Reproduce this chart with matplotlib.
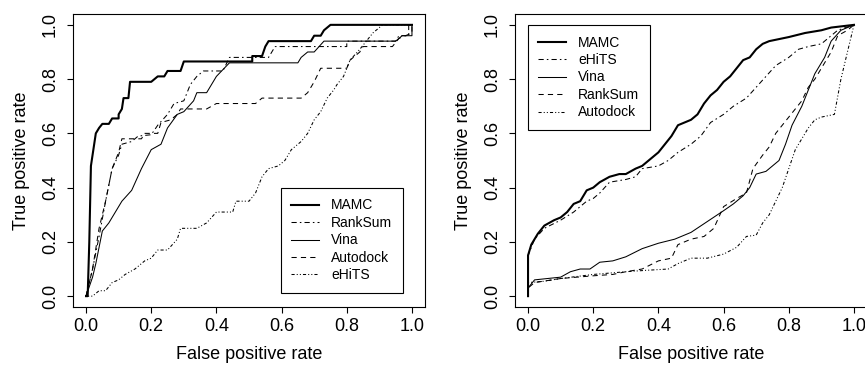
import matplotlib
matplotlib.use("Agg")
import matplotlib.pyplot as plt

plt.rcParams['font.family'] = ['Liberation Sans', 'DejaVu Sans']

# ---------------- Left panel data ----------------
l_mamc_x = [0, 0.005, 0.01, 0.015, 0.025, 0.03, 0.04, 0.05, 0.07, 0.08, 0.10, 0.10, 0.11, 0.115, 0.13, 0.135,
            0.20, 0.22, 0.24, 0.25, 0.29, 0.30, 0.51, 0.51, 0.54, 0.55, 0.56, 0.69, 0.70, 0.72, 0.73, 0.75, 1.0]
l_mamc_y = [0, 0.0, 0.2, 0.48, 0.56, 0.60, 0.62, 0.635, 0.635, 0.655, 0.655, 0.67, 0.69, 0.73, 0.73, 0.79,
            0.79, 0.81, 0.81, 0.83, 0.83, 0.865, 0.865, 0.885, 0.885, 0.92, 0.94, 0.94, 0.96, 0.96, 0.98, 1.0, 1.0]

l_rank_x = [0, 0.02, 0.04, 0.06, 0.08, 0.10, 0.11, 0.14, 0.16, 0.20, 0.22, 0.25, 0.27, 0.30, 0.32, 0.34, 0.36,
            0.42, 0.44, 0.56, 0.58, 0.80, 0.80, 0.95, 0.96, 0.99, 0.99, 1.0]
l_rank_y = [0, 0.10, 0.22, 0.35, 0.47, 0.52, 0.56, 0.57, 0.59, 0.595, 0.63, 0.67, 0.71, 0.72, 0.78, 0.81, 0.83,
            0.83, 0.88, 0.88, 0.92, 0.92, 0.94, 0.94, 0.96, 0.96, 1.0, 1.0]

l_vina_x = [0, 0.02, 0.03, 0.05, 0.07, 0.09, 0.11, 0.14, 0.17, 0.20, 0.23, 0.25, 0.28, 0.30, 0.33, 0.34, 0.37,
            0.40, 0.44, 0.65, 0.66, 0.68, 0.70, 0.73, 0.95, 0.97, 1.0, 1.0]
l_vina_y = [0, 0.07, 0.12, 0.24, 0.27, 0.31, 0.35, 0.39, 0.47, 0.54, 0.56, 0.62, 0.67, 0.68, 0.72, 0.75, 0.75,
            0.81, 0.86, 0.86, 0.88, 0.90, 0.90, 0.94, 0.94, 0.96, 0.96, 1.0]

l_auto_x = [0, 0.02, 0.04, 0.06, 0.08, 0.10, 0.11, 0.17, 0.18, 0.22, 0.23, 0.26, 0.28, 0.29, 0.37, 0.40, 0.52,
            0.54, 0.66, 0.68, 0.70, 0.72, 0.80, 0.81, 0.84, 0.85, 0.94, 0.96, 0.98, 1.0, 1.0]
l_auto_y = [0, 0.10, 0.25, 0.35, 0.47, 0.53, 0.58, 0.58, 0.60, 0.60, 0.64, 0.65, 0.67, 0.69, 0.69, 0.71, 0.71,
            0.73, 0.73, 0.75, 0.79, 0.84, 0.84, 0.87, 0.90, 0.92, 0.92, 0.95, 0.96, 0.97, 1.0]

l_ehits_x = [0, 0.02, 0.04, 0.06, 0.08, 0.10, 0.12, 0.15, 0.18, 0.20, 0.22, 0.25, 0.28, 0.29, 0.34, 0.37, 0.40,
             0.45, 0.46, 0.50, 0.52, 0.54, 0.56, 0.59, 0.61, 0.63, 0.66, 0.68, 0.70, 0.72, 0.74, 0.76, 0.77,
             0.79, 0.81, 0.84, 0.86, 0.88, 0.91, 1.0]
l_ehits_y = [0, 0.0, 0.02, 0.02, 0.05, 0.06, 0.08, 0.10, 0.13, 0.14, 0.17, 0.17, 0.21, 0.25, 0.25, 0.27, 0.31,
             0.31, 0.35, 0.35, 0.38, 0.44, 0.47, 0.48, 0.50, 0.54, 0.57, 0.60, 0.65, 0.68, 0.73, 0.76, 0.78,
             0.81, 0.87, 0.91, 0.94, 0.97, 1.0, 1.0]

# ---------------- Right panel data ----------------
r_mamc_x = [0, 0, 0.01, 0.03, 0.05, 0.08, 0.10, 0.12, 0.14, 0.16, 0.18, 0.20, 0.22, 0.25, 0.28, 0.30, 0.33,
            0.35, 0.37, 0.40, 0.42, 0.44, 0.46, 0.48, 0.50, 0.52, 0.54, 0.56, 0.58, 0.60, 0.62, 0.64, 0.66,
            0.68, 0.70, 0.72, 0.74, 0.76, 0.80, 0.85, 0.90, 0.93, 1.0]
r_mamc_y = [0, 0.15, 0.19, 0.23, 0.26, 0.28, 0.29, 0.31, 0.34, 0.35, 0.39, 0.40, 0.42, 0.44, 0.45, 0.45, 0.47,
            0.48, 0.50, 0.53, 0.56, 0.59, 0.63, 0.64, 0.65, 0.67, 0.71, 0.74, 0.76, 0.79, 0.81, 0.84, 0.87,
            0.88, 0.91, 0.93, 0.94, 0.945, 0.955, 0.97, 0.98, 0.99, 1.0]

r_ehits_x = [0, 0, 0.02, 0.05, 0.10, 0.14, 0.18, 0.20, 0.22, 0.25, 0.30, 0.33, 0.35, 0.40, 0.43, 0.46, 0.50,
             0.53, 0.56, 0.60, 0.63, 0.67, 0.70, 0.73, 0.76, 0.80, 0.83, 0.86, 0.90, 0.93, 0.95, 1.0]
r_ehits_y = [0, 0.15, 0.21, 0.25, 0.28, 0.31, 0.35, 0.36, 0.38, 0.42, 0.43, 0.44, 0.47, 0.48, 0.50, 0.53, 0.56,
             0.59, 0.64, 0.67, 0.70, 0.73, 0.77, 0.81, 0.85, 0.88, 0.91, 0.92, 0.93, 0.96, 0.98, 1.0]

r_vina_x = [0, 0, 0.02, 0.06, 0.10, 0.13, 0.16, 0.19, 0.22, 0.26, 0.30, 0.35, 0.40, 0.45, 0.50, 0.55, 0.60,
            0.63, 0.66, 0.68, 0.70, 0.73, 0.75, 0.77, 0.79, 0.81, 0.84, 0.86, 0.88, 0.91, 0.93, 0.96, 1.0]
r_vina_y = [0, 0.03, 0.06, 0.065, 0.07, 0.09, 0.10, 0.10, 0.125, 0.13, 0.145, 0.175, 0.195, 0.21, 0.235, 0.275,
            0.315, 0.34, 0.37, 0.40, 0.45, 0.46, 0.48, 0.50, 0.56, 0.63, 0.70, 0.76, 0.82, 0.88, 0.94, 0.98, 1.0]

r_rank_x = [0, 0, 0.02, 0.10, 0.20, 0.26, 0.30, 0.35, 0.40, 0.44, 0.46, 0.50, 0.54, 0.57, 0.60, 0.64, 0.67,
            0.69, 0.72, 0.74, 0.76, 0.78, 0.80, 0.82, 0.84, 0.86, 0.88, 0.91, 0.93, 0.95, 0.98, 1.0]
r_rank_y = [0, 0.03, 0.05, 0.065, 0.075, 0.08, 0.09, 0.10, 0.13, 0.14, 0.19, 0.21, 0.22, 0.25, 0.33, 0.36, 0.38,
            0.47, 0.52, 0.55, 0.60, 0.63, 0.66, 0.69, 0.72, 0.77, 0.80, 0.86, 0.90, 0.96, 0.98, 1.0]

r_auto_x = [0, 0, 0.05, 0.10, 0.20, 0.30, 0.36, 0.43, 0.46, 0.50, 0.55, 0.60, 0.64, 0.67, 0.70, 0.72, 0.74,
            0.76, 0.78, 0.80, 0.82, 0.84, 0.86, 0.88, 0.90, 0.94, 0.96, 0.98, 1.0]
r_auto_y = [0, 0.05, 0.055, 0.065, 0.08, 0.09, 0.095, 0.10, 0.12, 0.14, 0.14, 0.155, 0.18, 0.22, 0.225, 0.27,
            0.30, 0.35, 0.40, 0.47, 0.54, 0.58, 0.62, 0.65, 0.66, 0.67, 0.80, 0.90, 1.0]

ticks = [0.0, 0.2, 0.4, 0.6, 0.8, 1.0]
tick_labels = ["0.0", "0.2", "0.4", "0.6", "0.8", "1.0"]
x_label = "False positive rate"
y_label = "True positive rate"

THIN = 0.75
THICK = 1.5
styles = {
    "solid_thick": dict(color="black", lw=THICK, ls="-"),
    "solid": dict(color="black", lw=THIN, ls="-"),
    "dashdot": dict(color="black", lw=THIN, ls=(0, (5, 3, 1.5, 3))),
    "dashed": dict(color="black", lw=THIN, ls=(0, (5, 4))),
    "dashdotdot": dict(color="black", lw=THIN, ls=(0, (3, 2, 1, 2, 1, 2))),
}

left_series = [
    ("MAMC", l_mamc_x, l_mamc_y, "solid_thick"),
    ("RankSum", l_rank_x, l_rank_y, "dashdot"),
    ("Vina", l_vina_x, l_vina_y, "solid"),
    ("Autodock", l_auto_x, l_auto_y, "dashed"),
    ("eHiTS", l_ehits_x, l_ehits_y, "dashdotdot"),
]
right_series = [
    ("MAMC", r_mamc_x, r_mamc_y, "solid_thick"),
    ("eHiTS", r_ehits_x, r_ehits_y, "dashdot"),
    ("Vina", r_vina_x, r_vina_y, "solid"),
    ("RankSum", r_rank_x, r_rank_y, "dashed"),
    ("Autodock", r_auto_x, r_auto_y, "dashdotdot"),
]

fig = plt.figure(figsize=(8.65, 3.65), dpi=100)
ax1 = fig.add_axes([73 / 865, 58 / 365, 352 / 865, 293 / 365])
ax2 = fig.add_axes([515 / 865, 58 / 365, 352 / 865, 293 / 365])


def style_axes(ax, series, legend_anchor):
    for name, xs, ys, st in series:
        ax.plot(xs, ys, label=name, **styles[st])
    ax.set_xlim(-0.04, 1.04)
    ax.set_ylim(-0.04, 1.04)
    ax.set_xticks(ticks)
    ax.set_xticklabels(tick_labels)
    ax.set_yticks(ticks)
    ax.set_yticklabels(tick_labels, rotation=90, va="center")
    ax.tick_params(direction="out", length=4, width=0.8, labelsize=13, color="black")
    ax.tick_params(axis="x", pad=4)
    ax.tick_params(axis="y", pad=6)
    for sp in ax.spines.values():
        sp.set_linewidth(0.8)
        sp.set_color("black")
    ax.set_xlabel(x_label, fontsize=13, labelpad=8)
    ax.set_ylabel(y_label, fontsize=13, labelpad=9)
    leg = ax.legend(loc="upper left", bbox_to_anchor=legend_anchor, fancybox=False,
                    edgecolor="black", framealpha=1, fontsize=10, handlelength=2.0,
                    handletextpad=0.85, labelspacing=0.25, borderpad=0.75, borderaxespad=0)
    leg.get_frame().set_linewidth(0.8)


style_axes(ax1, left_series, (0.591, 0.406))
style_axes(ax2, right_series, (0.037, 0.962))

fig.savefig("out.png", dpi=100)
